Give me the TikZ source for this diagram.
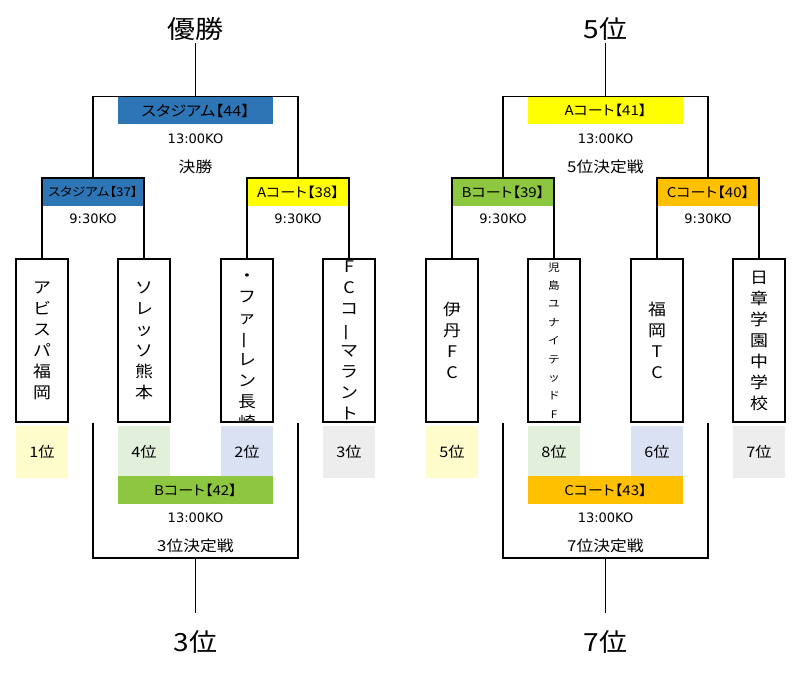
\documentclass[tikz,border=0pt]{standalone}
\usepackage{fontspec}
\setmainfont[FakeStretch=1.12]{Noto Sans CJK JP}
\newfontfamily\hdfont[FakeStretch=1.12,RawFeature=+palt]{Noto Sans CJK JP}
\newfontfamily\kofont{DejaVu Sans}
\usetikzlibrary{positioning}
\definecolor{stadium}{RGB}{46,117,182}
\definecolor{courta}{RGB}{255,255,0}
\definecolor{courtb}{RGB}{141,198,63}
\definecolor{courtc}{RGB}{255,192,0}
\definecolor{rankyellow}{RGB}{255,252,204}
\definecolor{rankgreen}{RGB}{226,239,218}
\definecolor{rankblue}{RGB}{217,225,242}
\definecolor{rankgray}{RGB}{237,237,237}
\newcommand\vchoon{\rotatebox[origin=c]{90}{ー}}
\begin{document}
\begin{tikzpicture}[x=1pt,y=-1pt,line width=1.2pt,
 team/.style={draw,minimum width=52pt,minimum height=163pt,inner sep=0pt},
 tname/.style={align=center,inner sep=0pt,font=\fontsize{16}{21}\selectfont},
 tsmall/.style={align=center,inner sep=0pt,font=\fontsize{10.5}{18.4}\selectfont},
 rank/.style={minimum width=52pt,minimum height=52pt,inner sep=0pt,font=\fontsize{14.5}{16}\selectfont},
 semi/.style={minimum width=102pt,minimum height=28pt,inner sep=0pt,outer sep=0pt},
 final/.style={minimum width=155pt,minimum height=27.5pt,inner sep=0pt,outer sep=0pt},
 ko/.style={font=\kofont\fontsize{13}{15}\selectfont},
 stage/.style={font=\fontsize{15}{17}\selectfont},
 title/.style={inner sep=0pt,font=\fontsize{25}{28}\selectfont}]
\useasboundingbox (0,0) rectangle (800,672);
\foreach \i/\x in {1/42,2/144,3/247,4/349,5/452,6/554,7/657,8/759}
 \node[team] (t\i) at (\x,340.5) {};
\foreach \i/\dy/\st/\nm in {1/0/tname/{ア\\ビ\\ス\\パ\\福\\岡},2/0/tname/{ソ\\レ\\ッ\\ソ\\熊\\本},
 3/11/tname/{・\\フ\\ァ\\\vchoon\\レ\\ン\\長\\崎},4/0/tname/{F\\C\\コ\\\vchoon\\マ\\ラ\\ン\\ト},
 5/0/tname/{伊\\丹\\F\\C},6/0/tsmall/{児\\島\\ユ\\ナ\\イ\\テ\\ッ\\ド\\F},
 7/0/tname/{福\\岡\\T\\C},8/0/tname/{日\\章\\学\\園\\中\\学\\校}}{
 \begin{scope}
 \clip (t\i.north west) rectangle (t\i.south east);
 \node[\st] (n\i) at ([yshift=-\dy pt]t\i.center) {\nm};
 \end{scope}
}
\foreach \i/\col/\lab in {1/rankyellow/1位,2/rankgreen/4位,3/rankblue/2位,4/rankgray/3位,
 5/rankyellow/5位,6/rankgreen/8位,7/rankblue/6位,8/rankgray/7位}
 \node[rank,fill=\col,below=3pt of t\i] (r\i) {\lab};
\foreach \n/\x/\col/\fs/\lab in {37/93/stadium/12/スタジアム【37】,38/298/courta/13.5/Aコート【38】,
 39/503/courtb/13.5/Bコート【39】,40/708/courtc/13.5/Cコート【40】}{
 \node[semi,fill=\col,font=\hdfont\fontsize{\fs}{14}\selectfont] (s\n) at (\x,192) {\lab};
 \node[ko] (k\n) at (\x,219) {9:30KO};
}
\foreach \n/\x/\y/\col/\fs/\lab/\rd in {44/195.5/110.5/stadium/14.5/スタジアム【44】/決勝,
 41/605.5/110.5/courta/13.5/Aコート【41】/5位決定戦,42/195.5/490/courtb/13.5/Bコート【42】/3位決定戦,
 43/605.5/490/courtc/13.5/Cコート【43】/7位決定戦}{
 \node[final,fill=\col,font=\hdfont\fontsize{\fs}{14}\selectfont] (f\n) at (\x,\y) {\lab};
 \node[ko] (k\n) at (\x,{\y+28}) {13:00KO};
 \node[stage] (w\n) at (\x,{\y+56}) {\rd};
}
\foreach \n/\a/\b in {37/1/2,38/3/4,39/5/6,40/7/8}
 \draw (t\a.north) -- (s\n.north west) -- (s\n.north east) -- (t\b.north);
\draw (s37.north) |- (f44.north) -| (s38.north);
\draw (s39.north) |- (f41.north) -| (s40.north);
\coordinate (champ-foot) at (195.5,43);
\coordinate (fifth-foot) at (605.5,43);
\draw (f44.north) -- (champ-foot);
\draw (f41.north) -- (fifth-foot);
\node[title,above=2pt of champ-foot] (champ) {優勝};
\node[title,above=2pt of fifth-foot] (fifth) {5位};
\coordinate (m42) at (195.5,558);
\coordinate (m43) at (605.5,558);
\draw (s37.center |- t1.south) |- (m42) -| (s38.center |- t4.south);
\draw (s39.center |- t5.south) |- (m43) -| (s40.center |- t8.south);
\coordinate (third-foot) at (195.5,613);
\coordinate (seventh-foot) at (605.5,613);
\draw (m42) -- (third-foot);
\draw (m43) -- (seventh-foot);
\node[title,below=17pt of third-foot] (third) {3位};
\node[title,below=17pt of seventh-foot] (seventh) {7位};
\end{tikzpicture}
\end{document}
